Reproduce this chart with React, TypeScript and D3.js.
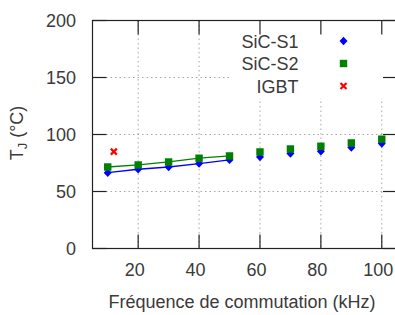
import React from 'react';
import * as d3 from 'd3';

// switching frequency (kHz) and junction temperature (°C)
const freq = [10, 20, 30, 40, 50, 60, 70, 80, 90, 100];
const sicS1 = [66.5, 69.5, 71.5, 74.5, 77.7, 80.3, 83.3, 85.3, 88.6, 92];
const sicS2 = [71.5, 73.3, 75.9, 79.2, 81.2, 84.7, 87.3, 89.7, 92.6, 95.9];
const igbtFreq = [12];
const igbt = [85];
const fitCount = 5; // the first points are joined by a line

const xTicks = [20, 40, 60, 80, 100];
const yTicks = [0, 50, 100, 150, 200];
const legendLabels = ['SiC-S1', 'SiC-S2', 'IGBT'];

const W = 395, H = 315;
const left = 92.5, right = 397, top = 20.5, bottom = 248.5;
const font = '"Liberation Sans", Arial, sans-serif';
const txt = '#3a3a3a';
const blue = '#0000ff', green = '#008000', red = '#ff0000';

export default function App() {
  const x = d3.scaleLinear().domain([5, 105]).range([left, right]);
  const y = d3.scaleLinear().domain([0, 200]).range([bottom, top]);

  const line = d3.line<[number, number]>()
    .x(d => x(d[0]))
    .y(d => y(d[1]));

  const s1 = freq.map((f, i) => [f, sicS1[i]] as [number, number]);
  const s2 = freq.map((f, i) => [f, sicS2[i]] as [number, number]);

  const diamond = (cx: number, cy: number, k: number) => (
    <path key={'d' + k} d={`M${cx},${cy - 4.2}L${cx + 4},${cy}L${cx},${cy + 4.2}L${cx - 4},${cy}Z`} fill={blue} />
  );
  const square = (cx: number, cy: number, k: number) => (
    <rect key={'s' + k} x={cx - 3.7} y={cy - 3.7} width={7.4} height={7.4} fill={green} />
  );
  const cross = (cx: number, cy: number, k: number) => (
    <path key={'x' + k} d={`M${cx - 3},${cy - 3}L${cx + 3},${cy + 3}M${cx - 3},${cy + 3}L${cx + 3},${cy - 3}`} stroke={red} strokeWidth={2.2} />
  );

  const legX = 298.5, legM = 343.5;
  const legY = [41, 63.5, 86];

  return (
    <svg width={W} height={H} style={{ position: 'absolute', left: 0, top: 0, background: '#fff' }}
      fontFamily={font}>
      {/* grid */}
      <g stroke="#a8a8a8" strokeWidth={1} strokeDasharray="1.5,3">
        {xTicks.map(t => <line key={'gx' + t} x1={x(t)} x2={x(t)} y1={top} y2={bottom} />)}
        {yTicks.slice(1, -1).map(t => <line key={'gy' + t} x1={left} x2={right} y1={y(t)} y2={y(t)} />)}
      </g>
      {/* legend box hides the grid */}
      <rect x={232} y={top} width={right - 232} height={78} fill="#fff" />

      {/* border and ticks */}
      <g stroke="#222" strokeWidth={1.2} fill="none">
        <rect x={left} y={top} width={right - left} height={bottom - top} />
        {xTicks.map(t => (
          <g key={'tx' + t}>
            <line x1={x(t)} x2={x(t)} y1={bottom} y2={bottom - 14} />
            <line x1={x(t)} x2={x(t)} y1={top} y2={top + 14} />
          </g>
        ))}
        {yTicks.map(t => (
          <g key={'ty' + t}>
            <line x1={left} x2={left + 14} y1={y(t)} y2={y(t)} />
            <line x1={right} x2={right - 14} y1={y(t)} y2={y(t)} />
          </g>
        ))}
      </g>

      {/* tick labels */}
      <g fill={txt} fontSize={18}>
        {xTicks.map(t => (
          <text key={'lx' + t} x={x(t) - 3.5} y={276} textAnchor="middle">{t}</text>
        ))}
        {yTicks.map(t => (
          <text key={'ly' + t} x={76} y={y(t) + 6.5} textAnchor="end">{t}</text>
        ))}
      </g>

      {/* axis titles */}
      <text x={242} y={308} fill={txt} fontSize={18} textAnchor="middle">Fréquence de commutation (kHz)</text>
      <text transform="translate(23,133) rotate(-90)" fill={txt} fontSize={18} textAnchor="middle">
        T<tspan fontSize={13} dy={4}>J</tspan><tspan dy={-4}> (°C)</tspan>
      </text>

      {/* lines through the first points */}
      <path d={line(s1.slice(0, fitCount)) || ''} fill="none" stroke={blue} strokeWidth={1.3} />
      <path d={line(s2.slice(0, fitCount)) || ''} fill="none" stroke={green} strokeWidth={1.3} />

      {/* points */}
      {s1.map((d, i) => diamond(x(d[0]), y(d[1]), i))}
      {s2.map((d, i) => square(x(d[0]), y(d[1]), i))}
      {igbtFreq.map((f, i) => cross(x(f), y(igbt[i]), i))}

      {/* legend */}
      <g fill={txt} fontSize={18} textAnchor="end">
        {legendLabels.map((l, i) => (
          <text key={l} x={legX} y={legY[i] + 6.5}>{l}</text>
        ))}
      </g>
      {diamond(legM, legY[0], 100)}
      {square(legM, legY[1], 100)}
      {cross(legM, legY[2], 100)}
    </svg>
  );
}
